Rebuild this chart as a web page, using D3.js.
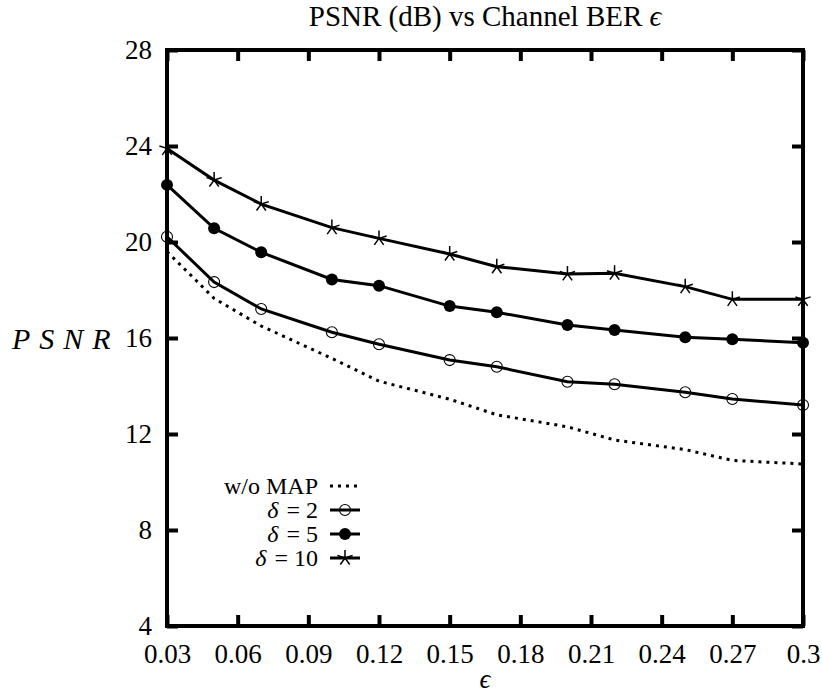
<!DOCTYPE html>
<html>
<head>
<meta charset="utf-8">
<script src="https://cdn.jsdelivr.net/npm/d3@7"></script>
<style>
  body { margin: 0; background: #fff; }
</style>
</head>
<body>
<div id="chart"></div>
<script>
// channel BER values where PSNR was measured
const berValues = [0.03, 0.05, 0.07, 0.10, 0.12, 0.15, 0.17, 0.20, 0.22, 0.25, 0.27, 0.30];
const psnrNoMap = [19.6, 17.65, 16.5, 15.15, 14.2, 13.45, 12.8, 12.3, 11.75, 11.35, 10.9, 10.75];
const psnrDelta2 = [20.22, 18.33, 17.21, 16.24, 15.74, 15.08, 14.80, 14.18, 14.07, 13.74, 13.46, 13.21];
const psnrDelta5 = [22.38, 20.57, 19.57, 18.44, 18.18, 17.33, 17.07, 16.54, 16.33, 16.03, 15.95, 15.80];
const psnrDelta10 = [23.90, 22.58, 21.58, 20.60, 20.15, 19.50, 18.97, 18.67, 18.70, 18.14, 17.61, 17.61];

const xTicks = [0.03, 0.06, 0.09, 0.12, 0.15, 0.18, 0.21, 0.24, 0.27, 0.30];
const xTickLabels = ["0.03", "0.06", "0.09", "0.12", "0.15", "0.18", "0.21", "0.24", "0.27", "0.3"];
const yTicks = [4, 8, 12, 16, 20, 24, 28];

const series = [
  { name: "w/o MAP", values: psnrNoMap, dotted: true, marker: null },
  { name: "2", values: psnrDelta2, dotted: false, marker: "open" },
  { name: "5", values: psnrDelta5, dotted: false, marker: "filled" },
  { name: "10", values: psnrDelta10, dotted: false, marker: "star" }
];

const width = 822, height = 694;
const margin = { top: 50, right: 19, bottom: 68, left: 167 };
const serif = '"Liberation Serif", "DejaVu Serif", serif';

const svg = d3.select("#chart").append("svg")
  .attr("width", width)
  .attr("height", height);

const x = d3.scaleLinear().domain([0.03, 0.3]).range([margin.left, width - margin.right]);
const y = d3.scaleLinear().domain([4, 28]).range([height - margin.bottom, margin.top]);

const fontSize = 27;
const tickLen = 11;

// axes, ticks pointing into the plot
const gx = svg.append("g")
  .attr("transform", `translate(0,${height - margin.bottom})`)
  .call(d3.axisBottom(x).tickValues(xTicks)
    .tickFormat((d, i) => xTickLabels[i])
    .tickSizeInner(-tickLen).tickSizeOuter(0).tickPadding(18));
const gxTop = svg.append("g")
  .attr("transform", `translate(0,${margin.top})`)
  .call(d3.axisTop(x).tickValues(xTicks).tickFormat("")
    .tickSizeInner(-tickLen).tickSizeOuter(0));
const gy = svg.append("g")
  .attr("transform", `translate(${margin.left},0)`)
  .call(d3.axisLeft(y).tickValues(yTicks)
    .tickSizeInner(-tickLen).tickSizeOuter(0).tickPadding(15));
const gyRight = svg.append("g")
  .attr("transform", `translate(${width - margin.right},0)`)
  .call(d3.axisRight(y).tickValues(yTicks).tickFormat("")
    .tickSizeInner(-tickLen).tickSizeOuter(0));

[gx, gxTop, gy, gyRight].forEach(g => {
  g.select(".domain").remove();
  g.selectAll(".tick line").attr("stroke", "#000").attr("stroke-width", 4);
  g.selectAll(".tick text")
    .style("font-family", serif)
    .style("font-size", fontSize + "px")
    .attr("fill", "#000");
});

// frame
svg.append("rect")
  .attr("x", margin.left)
  .attr("y", margin.top)
  .attr("width", width - margin.left - margin.right)
  .attr("height", height - margin.top - margin.bottom)
  .attr("fill", "none")
  .attr("stroke", "#000")
  .attr("stroke-width", 4);

// marker drawing
const starPath = (r) => {
  let p = "";
  for (let k = 0; k < 5; k++) {
    const a = -Math.PI / 2 + k * 2 * Math.PI / 5;
    p += `M0,0L${(r * Math.cos(a)).toFixed(2)},${(r * Math.sin(a)).toFixed(2)}`;
  }
  return p;
};

function drawMarker(g, type, cx, cy) {
  if (type === "open") {
    g.append("circle").attr("cx", cx).attr("cy", cy).attr("r", 5.5)
      .attr("fill", "none").attr("stroke", "#000").attr("stroke-width", 1.1);
  } else if (type === "filled") {
    g.append("circle").attr("cx", cx).attr("cy", cy).attr("r", 6)
      .attr("fill", "#000");
  } else if (type === "star") {
    g.append("path").attr("d", starPath(8))
      .attr("transform", `translate(${cx},${cy})`)
      .attr("fill", "none").attr("stroke", "#000").attr("stroke-width", 1.5);
  }
}

const line = d3.line()
  .x(d => x(d[0]))
  .y(d => y(d[1]));

const plot = svg.append("g");
series.forEach(s => {
  const pts = berValues.map((b, i) => [b, s.values[i]]);
  plot.append("path")
    .datum(pts)
    .attr("d", line)
    .attr("fill", "none")
    .attr("stroke", "#000")
    .attr("stroke-width", 3)
    .attr("stroke-dasharray", s.dotted ? "3,5" : null);
  if (s.marker) {
    const mg = plot.append("g");
    pts.forEach(p => drawMarker(mg, s.marker, x(p[0]), y(p[1])));
  }
});

// legend
const legendFont = 24;
const legendTextX = 318;
const sampleX0 = 330, sampleX1 = 360;
const legendRowY = [486, 510, 534, 558];
const legend = svg.append("g");
series.forEach((s, i) => {
  const ly = legendRowY[i];
  const t = legend.append("text")
    .attr("x", legendTextX)
    .attr("y", ly + 8)
    .attr("text-anchor", "end")
    .style("font-family", serif)
    .style("font-size", legendFont + "px")
    .text(s.dotted ? s.name : "=  " + s.name);
  if (!s.dotted) {
    const w = t.node().getComputedTextLength();
    legend.append("text")
      .attr("x", legendTextX - w - 8)
      .attr("y", ly + 8)
      .attr("text-anchor", "end")
      .style("font-family", serif)
      .style("font-size", legendFont + "px")
      .style("font-style", "italic")
      .text("δ");
  }
  legend.append("line")
    .attr("x1", sampleX0).attr("x2", sampleX1)
    .attr("y1", ly).attr("y2", ly)
    .attr("stroke", "#000")
    .attr("stroke-width", 3)
    .attr("stroke-dasharray", s.dotted ? "3,5" : null);
  if (s.marker) drawMarker(legend, s.marker, (sampleX0 + sampleX1) / 2, ly);
});

// titles
const title = svg.append("text")
  .attr("x", (margin.left + width - margin.right) / 2)
  .attr("y", 26)
  .attr("text-anchor", "middle")
  .style("font-family", serif)
  .style("font-size", "29px")
  .text("PSNR (dB) vs Channel BER ");
title.append("tspan").style("font-style", "italic").text("ϵ");

svg.append("text")
  .attr("x", (margin.left + width - margin.right) / 2)
  .attr("y", 688)
  .attr("text-anchor", "middle")
  .style("font-family", serif)
  .style("font-size", fontSize + "px")
  .style("font-style", "italic")
  .text("ϵ");

svg.append("text")
  .attr("x", 12)
  .attr("y", 349)
  .style("font-family", serif)
  .style("font-size", "30px")
  .style("font-style", "italic")
  .style("letter-spacing", "9px")
  .text("PSNR");
</script>
</body>
</html>
